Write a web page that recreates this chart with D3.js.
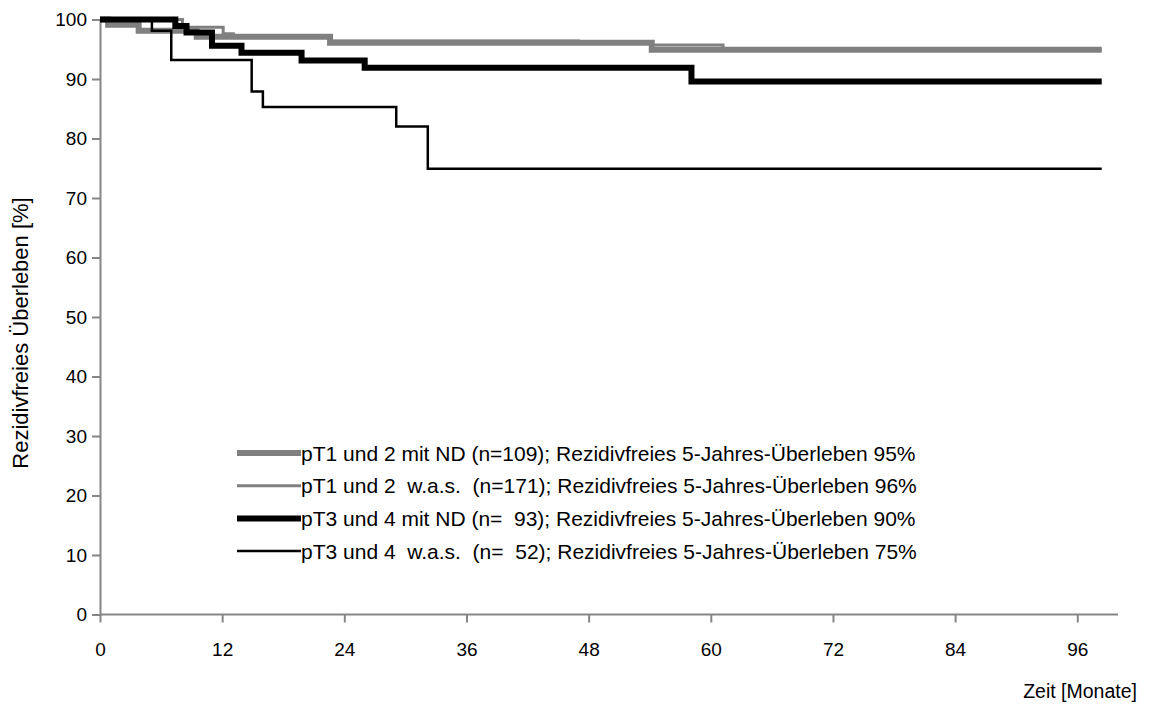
<!DOCTYPE html>
<html>
<head>
<meta charset="utf-8">
<script src="https://cdn.jsdelivr.net/npm/d3@7"></script>
<style>
  html, body { margin: 0; padding: 0; background: #fff; }
  svg { display: block; font-family: "Liberation Sans", Arial, sans-serif; }
</style>
</head>
<body>
<svg id="chart" width="1160" height="708"></svg>
<script>
// Kaplan-Meier steps: time (months) of each step and survival (%) from that time on
const endMonth = 98.4;

const ndT12Times  = [0, 0.8, 3.8, 9.5, 22.6, 54.2];
const ndT12Values = [100, 99.1, 98.1, 97.1, 96.1, 94.9];

const wasT12Times  = [0, 8.1, 12.1, 13.1, 17.8, 22.6, 47.0, 54.2, 61.2];
const wasT12Values = [100, 98.7, 97.6, 97.2, 97.0, 96.4, 96.0, 95.7, 94.9];

const ndT34Times  = [0, 7.4, 8.5, 11.0, 13.9, 19.8, 26.0, 58.1];
const ndT34Values = [100, 98.9, 97.8, 95.6, 94.4, 93.1, 91.9, 89.6];

const wasT34Times  = [0, 5.1, 7.0, 14.9, 16.0, 29.1, 32.2];
const wasT34Values = [100, 98.1, 93.2, 87.9, 85.3, 82.0, 74.9];

const seriesLabels = [
  "pT1 und 2 mit ND (n=109); Rezidivfreies 5-Jahres-Überleben 95%",
  "pT1 und 2  w.a.s.  (n=171); Rezidivfreies 5-Jahres-Überleben 96%",
  "pT3 und 4 mit ND (n=  93); Rezidivfreies 5-Jahres-Überleben 90%",
  "pT3 und 4  w.a.s.  (n=  52); Rezidivfreies 5-Jahres-Überleben 75%"
];

const xTicks = [0, 12, 24, 36, 48, 60, 72, 84, 96];
const yTicks = [0, 10, 20, 30, 40, 50, 60, 70, 80, 90, 100];

const series = [
  { times: ndT12Times,  values: ndT12Values,  color: "#808080", width: 6 },
  { times: wasT12Times, values: wasT12Values, color: "#808080", width: 3 },
  { times: ndT34Times,  values: ndT34Values,  color: "#000000", width: 6 },
  { times: wasT34Times, values: wasT34Values, color: "#000000", width: 2.5 }
].map((s, i) => ({ ...s, label: seriesLabels[i] }));

const svg = d3.select("#chart");
const plot = { left: 100, right: 1118, top: 19.5, bottom: 614.5 };

const x = d3.scaleLinear().domain([0, 100]).range([plot.left, plot.right]);
const y = d3.scaleLinear().domain([0, 100]).range([plot.bottom, plot.top]);

const axisColor = "#868686";

// y axis
const yAxis = svg.append("g")
  .attr("transform", `translate(${plot.left},0)`)
  .call(d3.axisLeft(y).tickValues(yTicks).tickSize(8).tickPadding(5).tickFormat(d3.format("d")));
yAxis.select(".domain").attr("stroke", axisColor).attr("stroke-width", 2);
yAxis.selectAll(".tick line").attr("stroke", axisColor).attr("stroke-width", 2);
yAxis.selectAll(".tick text").attr("fill", "#000").style("font-size", "19px");

// x axis
const xAxis = svg.append("g")
  .attr("transform", `translate(0,${plot.bottom})`)
  .call(d3.axisBottom(x).tickValues(xTicks).tickSize(8).tickPadding(20).tickFormat(d3.format("d")));
xAxis.select(".domain").attr("stroke", axisColor).attr("stroke-width", 2)
  .attr("d", `M${plot.left},0H${plot.right}`);
xAxis.selectAll(".tick line").attr("stroke", axisColor).attr("stroke-width", 2);
xAxis.selectAll(".tick text").attr("fill", "#000").style("font-size", "19px");

// axis titles
svg.append("text")
  .attr("transform", `translate(28,333) rotate(-90)`)
  .attr("text-anchor", "middle")
  .style("font-size", "22px")
  .text("Rezidivfreies Überleben [%]");

svg.append("text")
  .attr("x", 1137).attr("y", 698)
  .attr("text-anchor", "end")
  .style("font-size", "19.5px")
  .text("Zeit [Monate]");

// survival curves
const line = d3.line()
  .x(d => x(d[0]))
  .y(d => y(d[1]))
  .curve(d3.curveStepAfter);

series.forEach(s => {
  const pts = s.times.map((t, i) => [t, s.values[i]]);
  pts.push([endMonth, s.values[s.values.length - 1]]);
  svg.append("path")
    .datum(pts)
    .attr("fill", "none")
    .attr("stroke", s.color)
    .attr("stroke-width", s.width)
    .attr("d", line);
});

// legend
const legend = svg.append("g").attr("transform", "translate(237,453)");
series.forEach((s, i) => {
  const g = legend.append("g").attr("transform", `translate(0,${i * 32.7})`);
  g.append("line")
    .attr("x1", 0).attr("x2", 64)
    .attr("y1", 0).attr("y2", 0)
    .attr("stroke", s.color)
    .attr("stroke-width", s.width);
  g.append("text")
    .attr("x", 64).attr("y", 7.5)
    .style("font-size", "21px")
    .attr("xml:space", "preserve")
    .style("white-space", "pre")
    .text(s.label);
});
</script>
</body>
</html>
